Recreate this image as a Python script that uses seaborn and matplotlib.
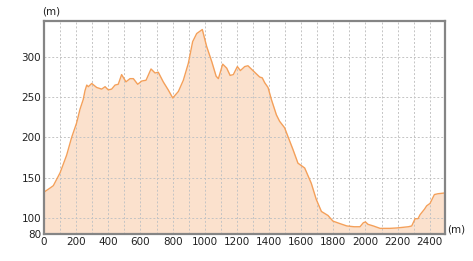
import matplotlib
matplotlib.use("Agg")
import matplotlib.pyplot as plt
import seaborn as sns
import pandas as pd

distance = [0, 37, 58, 100, 141, 172, 203, 224, 244, 255, 266, 276, 297, 328, 359, 380,
            400, 421, 442, 462, 483, 510, 535, 556, 583, 608, 635, 666, 691, 711, 742,
            773, 801, 836, 867, 898, 925, 950, 971, 985, 1012, 1044, 1071, 1085, 1112,
            1137, 1158, 1178, 1203, 1222, 1249, 1269, 1300, 1342, 1358, 1373, 1394, 1415,
            1446, 1466, 1497, 1518, 1549, 1580, 1601, 1622, 1663, 1694, 1726, 1767, 1798,
            1840, 1884, 1930, 1966, 1987, 2000, 2016, 2049, 2091, 2151, 2195, 2267, 2288,
            2309, 2327, 2340, 2368, 2381, 2402, 2429, 2451, 2495]
elevation = [132, 137, 140, 156, 178, 200, 218, 235, 247, 258, 265, 263, 267, 262, 260, 263,
             259, 260, 265, 266, 278, 269, 273, 273, 266, 270, 271, 285, 280, 281, 269,
             259, 249, 257, 271, 292, 319, 329, 332, 334, 313, 294, 276, 273, 291,
             286, 277, 278, 288, 283, 288, 289, 283, 275, 274, 268, 262, 247,
             228, 220, 212, 201, 185, 168, 165, 162, 143, 123, 108, 103, 96,
             93, 90, 89, 89, 94, 95, 92, 90, 87, 87, 87.5, 89, 90,
             99, 99, 104, 111, 115, 118, 129, 130, 131]
x_ticks = [0, 200, 400, 600, 800, 1000, 1200, 1400, 1600, 1800, 2000, 2200, 2400]
y_ticks = [80, 100, 150, 200, 250, 300]
unit_label = "(m)"

df = pd.DataFrame({"distance": distance, "elevation": elevation})

sns.set_style("white")
fig = plt.figure(figsize=(4.73, 2.61), dpi=100)
ax = fig.add_axes([44 / 473, 27 / 261, 401 / 473, 213 / 261])

ymin, ymax = 80, 344.6
ax.fill_between(df["distance"], df["elevation"], ymin, color="#fbe1cd", lw=0, zorder=1)
sns.lineplot(data=df, x="distance", y="elevation", ax=ax, color="#f4a05a", lw=1.0, zorder=3)

ax.set_xlim(0, 2495)
ax.set_ylim(ymin, ymax)
ax.set_xticks(x_ticks)
ax.set_xticks(range(100, 2500, 200), minor=True)
ax.set_yticks(y_ticks)
ax.tick_params(axis="both", which="both", length=0, labelsize=7.5, colors="#222222", pad=2)

for xv in range(100, 2500, 100):
    ax.axvline(xv, color="#c4c4c4", lw=0.7, ls=(0, (2, 2)), zorder=2)
for yv in [100, 150, 200, 250, 300]:
    ax.axhline(yv, color="#c4c4c4", lw=0.7, ls=(0, (2, 2)), zorder=2)

for s in ax.spines.values():
    s.set_visible(True)
    s.set_color("#858585")
    s.set_linewidth(1.6)
    s.set_zorder(5)

ax.set_xlabel("")
ax.set_ylabel("")
fig.text(42 / 473, 1 - 12 / 261, unit_label, fontsize=7.5, ha="left", va="center", color="#222222")
fig.text(447 / 473, 1 - 229 / 261, unit_label, fontsize=7.5, ha="left", va="center", color="#222222")

fig.savefig("out.png", dpi=100)
